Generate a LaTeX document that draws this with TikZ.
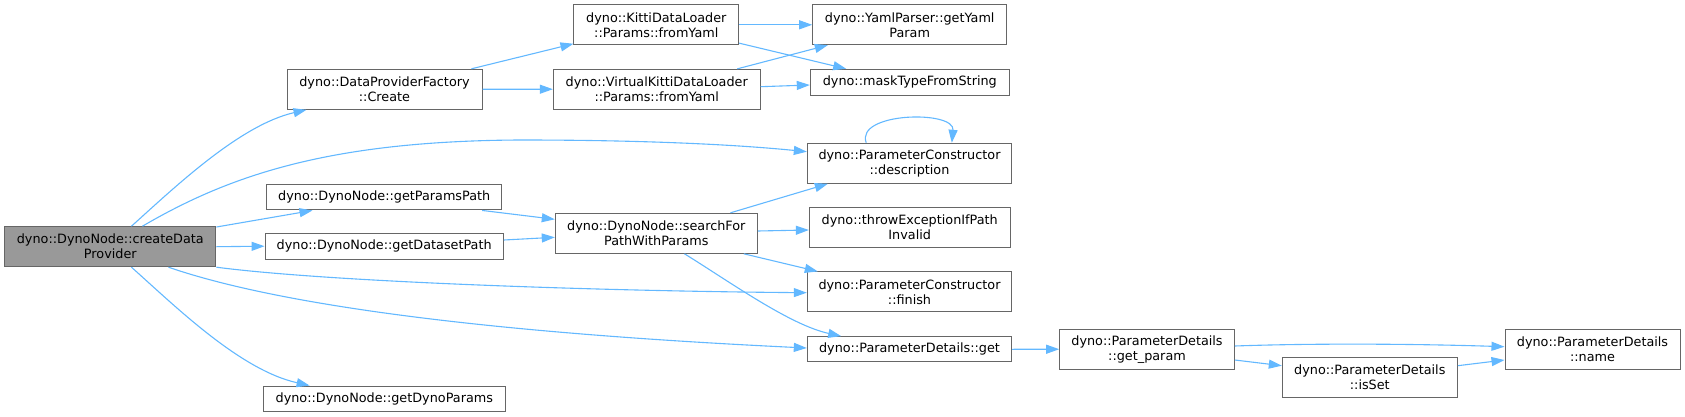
\documentclass[tikz,border=0pt]{standalone}
\usepackage{fontspec}
\setmainfont{DejaVu Sans}
\usetikzlibrary{arrows.meta}
\definecolor{edgeblue}{HTML}{63B8FF}
\definecolor{boxborder}{HTML}{666666}
\definecolor{mainfill}{HTML}{999999}
\newcommand{\nodefont}{\fontsize{12.8}{15}\selectfont}
\tikzset{
  box/.style={draw=boxborder, fill=white, line width=1pt, inner sep=0pt, align=center, font=\nodefont, text=black},
  mainbox/.style={box, fill=mainfill},
  call/.style={draw=edgeblue, line width=1.1pt, -{Triangle[length=13pt,width=9pt]}, edgeblue},
}
\begin{document}
\begin{tikzpicture}[x=1pt,y=-1pt]
\useasboundingbox (0,0) rectangle (1685,417);
% nodes
\node[mainbox, minimum width=211.3pt, minimum height=40pt] (A) at (110.3,246.7) {dyno::DynoNode::createData\\Provider};
\node[box, minimum width=195pt, minimum height=40pt] (B) at (384.5,89.3) {dyno::DataProviderFactory\\::Create};
\node[box, minimum width=235pt, minimum height=25.3pt] (C) at (384.2,197.3) {dyno::DynoNode::getParamsPath};
\node[box, minimum width=238.3pt, minimum height=25.7pt] (D) at (384.2,246.2) {dyno::DynoNode::getDatasetPath};
\node[box, minimum width=242pt, minimum height=25.3pt] (E) at (384.3,398.7) {dyno::DynoNode::getDynoParams};
\node[box, minimum width=164.7pt, minimum height=39.7pt] (F) at (656.3,24.8) {dyno::KittiDataLoader\\::Params::fromYaml};
\node[box, minimum width=206.7pt, minimum height=39.7pt] (G) at (656.7,89.2) {dyno::VirtualKittiDataLoader\\::Params::fromYaml};
\node[box, minimum width=202pt, minimum height=40pt] (H) at (656.3,233.3) {dyno::DynoNode::searchFor\\PathWithParams};
\node[box, minimum width=194pt, minimum height=39.7pt] (I) at (909.7,24.8) {dyno::YamlParser::getYaml\\Param};
\node[box, minimum width=199pt, minimum height=26pt] (J) at (909.8,82.3) {dyno::maskTypeFromString};
\node[box, minimum width=204.4pt, minimum height=40pt] (K) at (909.5,163.3) {dyno::ParameterConstructor\\::description};
\node[box, minimum width=200.7pt, minimum height=40pt] (L) at (909.7,227.7) {dyno::throwExceptionIfPath\\Invalid};
\node[box, minimum width=204.4pt, minimum height=39.7pt] (M) at (909.5,291.8) {dyno::ParameterConstructor\\::finish};
\node[box, minimum width=204.4pt, minimum height=25.3pt] (N) at (909.5,349.3) {dyno::ParameterDetails::get};
\node[box, minimum width=174.6pt, minimum height=40.3pt] (O) at (1147,349.2) {dyno::ParameterDetails\\::get\_param};
\node[box, minimum width=175pt, minimum height=40pt] (P) at (1369.8,377.3) {dyno::ParameterDetails\\::isSet};
\node[box, minimum width=175pt, minimum height=40.3pt] (Q) at (1592.5,349.2) {dyno::ParameterDetails\\::name};
% edges from A
\draw[call] ([xshift=127.3pt]A.north west) .. controls (175,187) and (240,125) .. ([xshift=20pt]B.south west);
\draw[call] ([xshift=138.3pt]A.north west) .. controls (230,175) and (330,141) .. (520,140) .. controls (650,140) and (740,145) .. ([yshift=11.6pt]K.west);
\draw[call] ([yshift=-0.8pt]A.north east) -- ([xshift=46.3pt]C.south west);
\draw[call] (A.east) -- (D.west);
\draw[call] (A.south east) .. controls (330,282) and (600,291) .. ([yshift=-0.9pt]M.west);
\draw[call] ([xshift=164.3pt]A.south west) .. controls (255,297) and (430,330) .. ([yshift=1.3pt]N.west);
\draw[call] ([xshift=127.3pt]A.south west) .. controls (175,306) and (240,370) .. ([xshift=46.8pt]E.north west);
% edges from B
\draw[call] ([xshift=-11pt]B.north east) -- ([yshift=1.4pt]F.south west);
\draw[call] (B.east) -- (G.west);
% edges from F and G
\draw[call] (F.east) -- (I.west);
\draw[call] ([yshift=2pt]F.south east) -- ([xshift=36.4pt]J.north west);
\draw[call] ([xshift=-23.3pt]G.north east) -- ([xshift=15.6pt]I.south west);
\draw[call] ([yshift=2.5pt]G.east) -- ([yshift=-2.7pt]J.west);
% self loop
\draw[call] ([xshift=59.4pt]K.north west) .. controls (855,112) and (955,110) .. ([xshift=145pt]K.north west);
% edges into / out of H
\draw[call] ([xshift=-20pt]C.south east) -- ([yshift=14pt]H.west);
\draw[call] ([yshift=6.2pt]D.east) -- ([yshift=-4pt]H.west);
\draw[call] ([xshift=-27.3pt]H.north east) -- ([xshift=21pt]K.south west);
\draw[call] ([yshift=2.3pt]H.east) -- ([yshift=-2.3pt]L.west);
\draw[call] ([xshift=-14pt]H.south east) -- ([xshift=11pt]M.north west);
\draw[call] ([xshift=129.7pt]H.south west) .. controls (730,282) and (790,325) .. ([xshift=34.4pt]N.north west);
% right part
\draw[call] (N.east) -- (O.west);
\draw[call] ([yshift=3.2pt]O.east) .. controls (1320,343) and (1420,344) .. ([yshift=2.5pt]Q.west);
\draw[call] ([yshift=-10.8pt]O.east) -- ([yshift=11.6pt]P.west);
\draw[call] ([yshift=11.6pt]P.east) -- ([yshift=-10.8pt]Q.west);
\end{tikzpicture}
\end{document}
